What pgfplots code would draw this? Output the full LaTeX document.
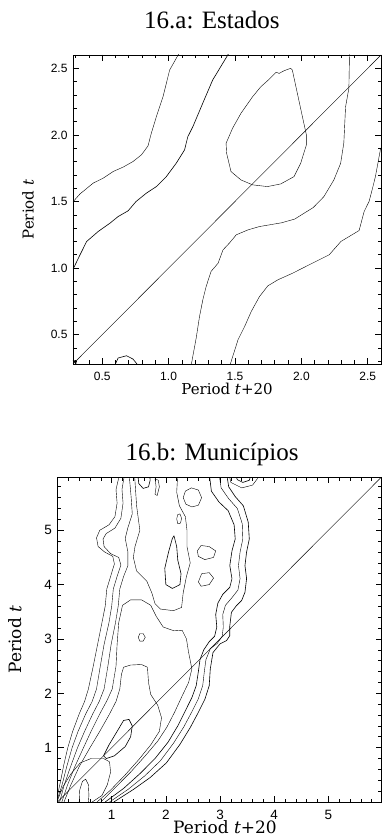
\documentclass[border=0pt]{standalone}
\usepackage{pgfplots}
\pgfplotsset{compat=1.18}
\usepackage{fontspec}
\setmainfont{Liberation Serif}
\newfontfamily\tickfont{Liberation Sans}
\newfontfamily\labfont{DejaVu Serif}
\begin{document}
\begin{tikzpicture}
\pgfplotsset{
  idl/.style={
    scale only axis, anchor=south west,
    tick align=inside, major tick length=6pt, minor tick length=3.5pt,
    every tick/.style={black, line width=0.6pt},
    axis line style={line width=0.7pt},
    /pgf/number format/assume math mode=true,
    xticklabel style={anchor=base, yshift=-17pt},
    yticklabel style={xshift=-2pt},
    every axis title/.style={anchor=base, font=\fontsize{25}{28}\selectfont},
    every axis x label/.style={anchor=base},
    every axis y label/.style={rotate=90, anchor=center},
    cycle list={{black,solid,line width=0.6pt,mark=none}},
  }
}
\draw[white, line width=0pt] (0pt,0pt) rectangle (382pt,838pt);
% ---------------- 16.a ----------------
\begin{axis}[idl, at={(73pt,474pt)}, width=308pt, height=309pt,
  xmin=0.28, xmax=2.6, ymin=0.28, ymax=2.6,
  xtick={0.5,1,1.5,2,2.5}, ytick={0.5,1,1.5,2,2.5},
  minor xtick={0.3,0.4,...,2.61}, minor ytick={0.3,0.4,...,2.61},
  tick label style={font=\tickfont\fontsize{12}{13}\selectfont,
    /pgf/number format/fixed, /pgf/number format/fixed zerofill, /pgf/number format/precision=1},
  label style={font=\labfont\fontsize{15}{16}\selectfont},
  title={16.a: Estados}, title style={at={(axis description cs:0.451,1.087)}},
  xlabel={Period \textit{t}+20}, xlabel style={at={(axis description cs:0.5,-0.098)}},
  ylabel={Period \textit{t}}, ylabel style={at={(axis description cs:-0.146,0.5)}},
]
\addplot coordinates {(0.28,0.28)(2.6,2.6)};
\addplot coordinates {(0.282,1.50)(0.333,1.557)(0.432,1.638)(0.507,1.675)(0.582,1.725)(0.657,1.758)(0.732,1.800)(0.795,1.850)(0.845,1.917)(0.870,2.013)(0.908,2.137)(0.958,2.287)(1.008,2.487)(1.083,2.62)};
\addplot coordinates {(0.282,0.995)(0.333,1.10)(0.383,1.20)(0.47,1.275)(0.558,1.337)(0.62,1.387)(0.695,1.43)(0.755,1.50)(0.833,1.563)(0.908,1.612)(0.983,1.687)(1.058,1.788)(1.12,1.887)(1.145,1.987)(1.183,2.062)(1.257,2.237)(1.332,2.412)(1.458,2.62)};
\addplot coordinates {(1.92,2.50)(1.87,2.482)(1.833,2.462)(1.81,2.47)(1.758,2.418)(1.695,2.362)(1.633,2.287)(1.545,2.162)(1.482,2.05)(1.433,1.937)(1.437,1.863)(1.452,1.80)(1.47,1.725)(1.545,1.662)(1.633,1.625)(1.745,1.612)(1.845,1.632)(1.945,1.687)(1.995,1.787)(2.038,1.925)(2.038,2.0)(2.008,2.137)(1.97,2.312)(1.932,2.487)(1.92,2.50)};
\addplot coordinates {(2.363,2.62)(2.358,2.35)(2.333,2.21)(2.32,1.94)(2.296,1.787)(2.245,1.662)(2.17,1.537)(2.09,1.455)(1.95,1.368)(1.85,1.34)(1.685,1.312)(1.598,1.287)(1.51,1.25)(1.46,1.19)(1.41,1.137)(1.373,1.037)(1.32,0.975)(1.283,0.862)(1.258,0.762)(1.233,0.637)(1.208,0.475)(1.17,0.27)};
\addplot coordinates {(1.462,0.27)(1.523,0.462)(1.573,0.562)(1.623,0.675)(1.685,0.787)(1.748,0.867)(1.823,0.912)(1.935,0.962)(2.073,1.032)(2.21,1.10)(2.298,1.20)(2.435,1.282)(2.473,1.425)(2.51,1.50)(2.533,1.587)(2.558,1.687)(2.595,1.887)(2.62,1.95)};
\addplot coordinates {(0.595,0.27)(0.62,0.325)(0.683,0.342)(0.732,0.317)(0.77,0.27)};
\addplot coordinates {(0.28,0.305)(0.295,0.305)(0.305,0.29)(0.30,0.275)};
\end{axis}
% ---------------- 16.b ----------------
\begin{axis}[idl, at={(57.5pt,36pt)}, width=324pt, height=325pt,
  xmin=0, xmax=5.98, ymin=0, ymax=5.98,
  xtick={1,2,3,4,5}, ytick={1,2,3,4,5},
  minor xtick={0.2,0.4,...,5.9}, minor ytick={0.2,0.4,...,5.9},
  tick label style={font=\tickfont\fontsize{13.5}{14}\selectfont},
  label style={font=\labfont\fontsize{17}{18}\selectfont},
  title={16.b: Municípios}, title style={at={(axis description cs:0.477,1.05)}},
  xlabel={Period \textit{t}+20}, xlabel style={at={(axis description cs:0.517,-0.097)}},
  ylabel={Period \textit{t}}, ylabel style={at={(axis description cs:-0.131,0.5)}},
]
\addplot coordinates {(0,0)(5.98,5.98)};
% level 1
\addplot coordinates {(0.0,0.12)(0.06,0.4)(0.12,0.7)(0.19,1.0)(0.28,1.3)(0.40,1.62)(0.50,1.85)(0.57,2.08)(0.66,2.5)(0.74,2.9)(0.82,3.3)(0.88,3.6)(0.91,3.92)(0.98,4.15)(1.05,4.38)(1.02,4.52)(0.87,4.60)(0.75,4.70)(0.72,4.86)(0.78,5.0)(0.95,5.1)(1.06,5.25)(1.10,5.5)(1.08,5.75)(1.15,6.05)};
\addplot coordinates {(3.12,6.05)(3.16,5.80)(3.28,5.62)(3.43,5.45)(3.52,5.15)(3.54,4.84)(3.49,4.60)(3.46,4.35)(3.49,4.11)(3.46,3.86)(3.40,3.71)(3.30,3.61)(3.21,3.49)(3.18,3.24)(3.18,3.06)(3.12,2.97)(3.00,2.91)(2.87,2.75)(2.82,2.45)(2.80,2.14)(2.72,1.89)(2.60,1.65)(2.45,1.37)(2.26,1.06)(2.01,0.72)(1.71,0.45)(1.40,0.23)(1.04,0.0)};
% level 2
\addplot coordinates {(0.0,0.06)(0.08,0.3)(0.17,0.65)(0.27,1.0)(0.38,1.3)(0.52,1.62)(0.64,1.85)(0.72,2.08)(0.79,2.5)(0.86,2.9)(0.95,3.3)(1.0,3.6)(1.03,3.92)(1.10,4.15)(1.17,4.36)(1.13,4.50)(0.98,4.57)(0.86,4.70)(0.84,4.84)(0.90,4.94)(1.06,5.04)(1.17,5.22)(1.21,5.50)(1.19,5.75)(1.24,6.05)};
\addplot coordinates {(2.98,6.05)(3.02,5.78)(3.16,5.58)(3.32,5.40)(3.41,5.12)(3.42,4.84)(3.37,4.60)(3.34,4.35)(3.37,4.11)(3.33,3.90)(3.22,3.76)(3.10,3.62)(3.05,3.45)(3.06,3.22)(3.04,3.05)(2.95,2.92)(2.82,2.82)(2.74,2.62)(2.71,2.40)(2.68,2.14)(2.60,1.90)(2.48,1.66)(2.33,1.38)(2.14,1.08)(1.90,0.76)(1.61,0.48)(1.30,0.23)(0.96,0.0)};
% level 3
\addplot coordinates {(0.04,0.0)(0.12,0.3)(0.23,0.62)(0.37,1.0)(0.50,1.3)(0.65,1.62)(0.77,1.85)(0.86,2.08)(0.93,2.5)(0.99,2.9)(1.07,3.3)(1.12,3.6)(1.15,3.92)(1.22,4.15)(1.30,4.35)(1.30,4.6)(1.25,4.85)(1.30,5.05)(1.38,5.3)(1.36,5.6)(1.32,6.05)};
\addplot coordinates {(2.80,6.05)(2.84,5.72)(2.98,5.52)(3.15,5.36)(3.26,5.10)(3.28,4.84)(3.22,4.62)(3.18,4.35)(3.22,4.11)(3.18,3.95)(3.05,3.82)(2.96,3.66)(2.92,3.45)(2.94,3.22)(2.90,3.05)(2.80,2.95)(2.70,2.80)(2.63,2.62)(2.60,2.40)(2.56,2.14)(2.48,1.92)(2.36,1.68)(2.22,1.40)(2.04,1.10)(1.80,0.80)(1.52,0.52)(1.22,0.25)(0.88,0.0)};
% level 3b (bulge)
\addplot coordinates {(0.08,0.0)(0.18,0.3)(0.32,0.65)(0.48,1.0)(0.62,1.3)(0.78,1.62)(0.92,1.88)(1.01,2.08)(1.08,2.5)(1.10,2.9)(1.13,3.3)(1.20,3.62)(1.35,3.72)(1.55,3.72)(1.72,3.62)(1.82,3.42)(1.95,3.22)(2.15,3.15)(2.30,3.16)(2.38,3.0)(2.42,2.75)(2.48,2.45)(2.42,2.2)(2.30,1.95)(2.16,1.65)(2.02,1.38)(1.85,1.12)(1.62,0.85)(1.35,0.55)(1.05,0.25)(0.80,0.0)};
% level 4 (flat top)
\addplot coordinates {(0.12,0.0)(0.24,0.3)(0.40,0.65)(0.60,1.0)(0.78,1.3)(0.95,1.6)(1.08,1.85)(1.15,2.08)(1.18,2.35)(1.22,2.48)(1.35,2.52)(1.55,2.53)(1.66,2.48)(1.68,2.2)(1.72,1.98)(1.85,1.78)(1.92,1.55)(1.88,1.30)(1.72,1.05)(1.50,0.78)(1.25,0.50)(0.98,0.22)(0.73,0.0)};
% level 5
\addplot coordinates {(0.0,0.03)(0.10,0.28)(0.25,0.52)(0.42,0.72)(0.62,0.80)(0.85,0.80)(0.96,0.74)(0.98,0.55)(0.92,0.32)(0.82,0.12)(0.64,0.0)};
% ellipses
\addplot coordinates {(0.85,0.85)(0.95,1.05)(1.10,1.30)(1.22,1.50)(1.32,1.52)(1.38,1.40)(1.35,1.20)(1.25,1.02)(1.05,0.85)(0.90,0.80)(0.85,0.85)};
\addplot coordinates {(0.40,0)(0.41,0.22)(0.46,0.38)(0.52,0.42)(0.57,0.32)(0.58,0.12)(0.57,0)};
\addplot coordinates {(1.49,3.03)(1.52,3.10)(1.58,3.10)(1.62,3.03)(1.58,2.96)(1.52,2.96)(1.49,3.03)};
% upper region
\addplot coordinates {(1.42,6.05)(1.46,5.45)(1.52,5.0)(1.43,4.7)(1.40,4.5)(1.46,4.25)(1.65,4.06)(1.74,3.85)(1.80,3.65)(1.90,3.55)(2.14,3.52)(2.29,3.58)(2.32,3.85)(2.38,4.15)(2.45,4.40)(2.39,4.7)(2.39,5.0)(2.36,5.25)(2.25,5.45)(2.20,5.7)(2.22,6.05)};
\addplot coordinates {(1.48,6.05)(1.50,5.86)(1.58,5.77)(1.68,5.80)(1.71,5.92)(1.70,6.05)};
\addplot coordinates {(1.80,5.95)(1.86,5.92)(1.88,5.80)(1.84,5.64)(1.80,5.66)(1.82,5.80)(1.80,5.95)};
\addplot coordinates {(2.32,5.60)(2.36,5.72)(2.47,5.78)(2.60,5.74)(2.66,5.60)(2.60,5.46)(2.48,5.43)(2.37,5.48)(2.32,5.60)};
\addplot coordinates {(2.20,5.21)(2.22,5.29)(2.26,5.30)(2.29,5.22)(2.27,5.13)(2.22,5.12)(2.20,5.21)};
\addplot coordinates {(2.15,4.90)(2.20,4.70)(2.22,4.45)(2.28,4.20)(2.26,4.0)(2.12,3.93)(2.0,4.0)(1.98,4.3)(2.05,4.6)(2.12,4.85)(2.15,4.90)};
\addplot coordinates {(2.58,4.62)(2.65,4.72)(2.80,4.70)(2.92,4.62)(2.88,4.50)(2.72,4.46)(2.60,4.52)(2.58,4.62)};
\addplot coordinates {(2.60,4.05)(2.66,4.20)(2.80,4.22)(2.88,4.12)(2.80,4.0)(2.65,3.97)(2.60,4.05)};
\addplot coordinates {(3.16,6.05)(3.20,5.88)(3.40,5.78)(3.60,5.83)(3.69,5.95)(3.70,6.05)};
\addplot coordinates {(3.27,6.05)(3.32,5.93)(3.42,5.88)(3.54,5.92)(3.58,6.05)};
\end{axis}
\end{tikzpicture}
\end{document}
